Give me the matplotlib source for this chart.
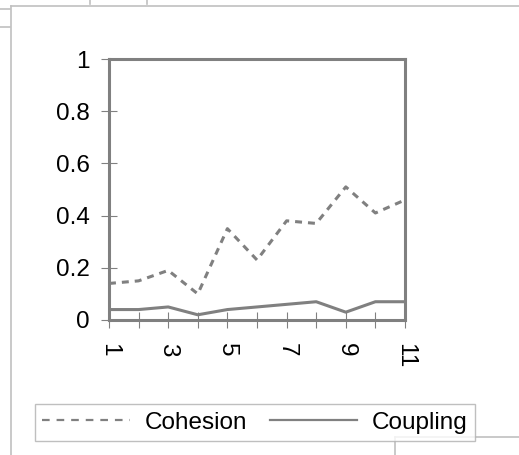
import matplotlib
matplotlib.use("Agg")
import matplotlib.pyplot as plt
from matplotlib.lines import Line2D

# data
x = [1, 2, 3, 4, 5, 6, 7, 8, 9, 10, 11]
cohesion = [0.14, 0.15, 0.19, 0.10, 0.35, 0.23, 0.38, 0.37, 0.51, 0.41, 0.46]
coupling = [0.04, 0.04, 0.05, 0.02, 0.04, 0.05, 0.06, 0.07, 0.03, 0.07, 0.07]
yticks = [0, 0.2, 0.4, 0.6, 0.8, 1]
ytick_labels = ["0", "0.2", "0.4", "0.6", "0.8", "1"]
xtick_labels = ["1", "", "3", "", "5", "", "7", "", "9", "", "11"]

plt.rcParams["font.family"] = ["Liberation Sans", "DejaVu Sans"]
plt.rcParams["lines.scale_dashes"] = False

W, H = 519, 455
grey = "#808080"
light = "#c0c0c0"
fs = 17.5

fig = plt.figure(figsize=(W / 100, H / 100), dpi=100)
ax = fig.add_axes([109 / W, 1 - 320 / H, 296 / W, 261 / H])

ax.plot(x, cohesion, color=grey, lw=2.2, dashes=(5, 4.3), solid_capstyle="butt")
ax.plot(x, coupling, color=grey, lw=2.2)

ax.set_xlim(1, 11)
ax.set_ylim(0, 1)
ax.set_xticks(x)
ax.set_xticklabels(xtick_labels, rotation=270)
ax.set_yticks(yticks)
ax.set_yticklabels(ytick_labels)

for s in ax.spines.values():
    s.set_color(grey)
    s.set_linewidth(2.2)
ax.tick_params(axis="both", direction="inout", length=11.5, width=0.8,
               color=grey, labelsize=fs)
ax.tick_params(axis="y", pad=8)
ax.tick_params(axis="x", pad=11)

# legend in its own box below the plot
handles = [Line2D([], [], color=grey, lw=1.6, dashes=(5.5, 5)),
           Line2D([], [], color=grey, lw=1.6)]
leg = fig.legend(handles, ["Cohesion", "Coupling"], ncol=2,
                 loc="lower left", mode="expand",
                 bbox_to_anchor=(35 / W, 1 - 441 / H, 440 / W, 43 / H),
                 borderaxespad=0, fontsize=fs, handlelength=3.6,
                 handletextpad=0.6, columnspacing=0.5, borderpad=0.3,
                 fancybox=False, frameon=True)
leg.get_frame().set_edgecolor("#b0b0b0")
leg.get_frame().set_linewidth(1.0)


def px_line(xs, ys, color=light, lw=1.2):
    fig.add_artist(Line2D([v / W for v in xs], [1 - v / H for v in ys],
                          transform=fig.transFigure, color=color, lw=lw))


# surrounding sheet borders
px_line([11, W], [5.5, 5.5])
px_line([11, 11], [5.5, H])
px_line([90, 90], [0, 4])
px_line([147, 147], [0, 4])
px_line([0, 10], [9, 9])
px_line([0, 10], [26.5, 26.5])
px_line([395, W], [437, 437])
px_line([395, 395], [437, H])

fig.savefig("out.png", dpi=100)
